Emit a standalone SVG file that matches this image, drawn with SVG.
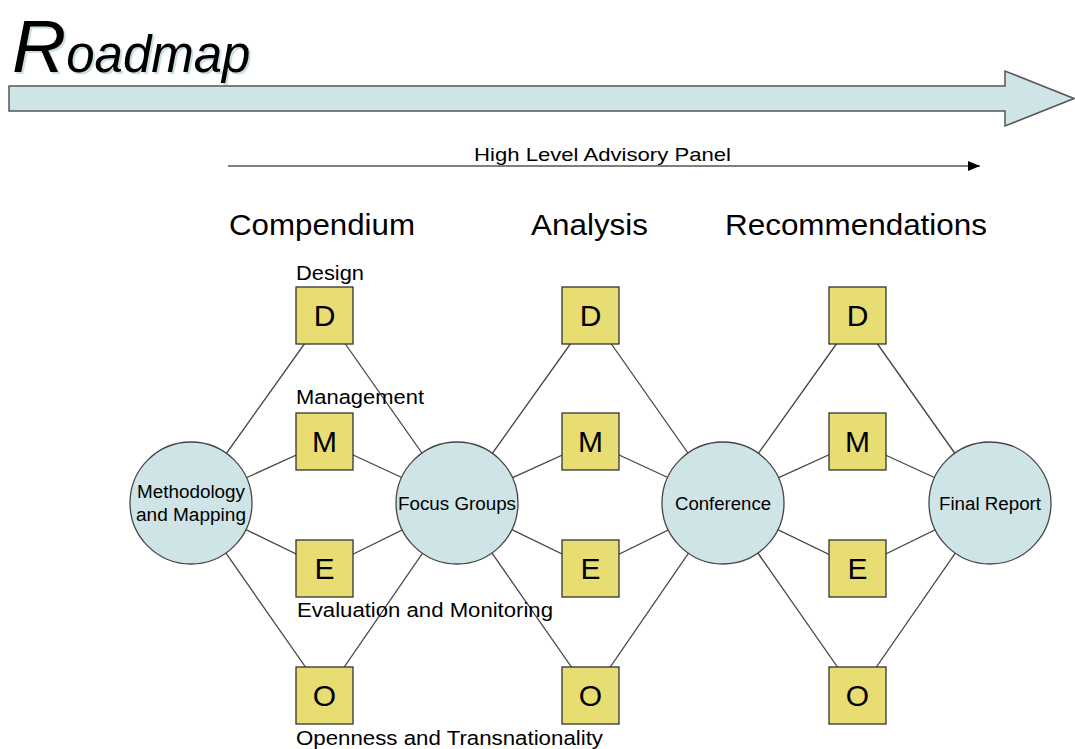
<svg xmlns="http://www.w3.org/2000/svg" width="1075" height="749" viewBox="0 0 1075 749">
<defs>
<style>
text{font-family:"Liberation Sans",Arial,Helvetica,sans-serif;fill:#000}
.circ{fill:#cfe4e6;stroke:#444;stroke-width:1.3}
.sq{fill:#e8dd72;stroke:#333;stroke-width:1.3}
.lt{font-size:30px;text-anchor:middle}
.ct{font-size:18px;text-anchor:middle}
.lbl{font-size:20.5px}
.hdr{font-size:30px}
#connectors line{stroke:#444;stroke-width:1.3}
</style>
<marker id="ah" markerWidth="12" markerHeight="10" refX="12" refY="5" orient="auto" markerUnits="userSpaceOnUse">
<path d="M0,0 L12,5 L0,10 Z" fill="#000"/>
</marker>
</defs>
<rect width="1075" height="749" fill="#fff"/>
<g id="title">
<text x="14" y="74" font-size="75" font-style="italic" style="fill:#c9dfe2">R<tspan font-size="51">oadmap</tspan></text>
<text x="12" y="72" font-size="75" font-style="italic">R<tspan font-size="51">oadmap</tspan></text>
</g>
<g id="roadmap-arrow">
<path d="M9,86 L1005,86 L1005,71 L1074,98.5 L1005,126 L1005,111 L9,111 Z" fill="#cfe4e6" stroke="#555" stroke-width="1.5"/>
</g>
<g id="panel">
<line x1="228" y1="166" x2="980" y2="166" stroke="#000" stroke-width="1.2" marker-end="url(#ah)"/>
<text x="474" y="161" font-size="19" textLength="257" lengthAdjust="spacingAndGlyphs">High Level Advisory Panel</text>
</g>
<g id="headers">
<text class="hdr" x="229" y="235" textLength="186" lengthAdjust="spacingAndGlyphs">Compendium</text>
<text class="hdr" x="531" y="235" textLength="117" lengthAdjust="spacingAndGlyphs">Analysis</text>
<text class="hdr" x="725" y="235" textLength="262" lengthAdjust="spacingAndGlyphs">Recommendations</text>
</g>
<g id="connectors">
<line x1="191" y1="503" x2="325" y2="315"/><line x1="191" y1="503" x2="325" y2="442"/>
<line x1="191" y1="503" x2="325" y2="568"/><line x1="191" y1="503" x2="325" y2="695"/>
<line x1="457" y1="503" x2="325" y2="315"/><line x1="457" y1="503" x2="325" y2="442"/>
<line x1="457" y1="503" x2="325" y2="568"/><line x1="457" y1="503" x2="325" y2="695"/>
<line x1="457" y1="503" x2="591" y2="315"/><line x1="457" y1="503" x2="591" y2="442"/>
<line x1="457" y1="503" x2="591" y2="568"/><line x1="457" y1="503" x2="591" y2="695"/>
<line x1="723" y1="503" x2="591" y2="315"/><line x1="723" y1="503" x2="591" y2="442"/>
<line x1="723" y1="503" x2="591" y2="568"/><line x1="723" y1="503" x2="591" y2="695"/>
<line x1="723" y1="503" x2="857" y2="315"/><line x1="723" y1="503" x2="857" y2="442"/>
<line x1="723" y1="503" x2="857" y2="568"/><line x1="723" y1="503" x2="857" y2="695"/>
<line x1="990" y1="503" x2="857" y2="315"/><line x1="990" y1="503" x2="857" y2="442"/>
<line x1="990" y1="503" x2="857" y2="568"/><line x1="990" y1="503" x2="857" y2="695"/>
</g>
<g id="methodology"><circle class="circ" cx="191" cy="503" r="61"/><text class="ct" x="191" y="498" textLength="108" lengthAdjust="spacingAndGlyphs">Methodology</text><text class="ct" x="191" y="521" textLength="110" lengthAdjust="spacingAndGlyphs">and Mapping</text></g>
<g id="focus-groups"><circle class="circ" cx="457" cy="503" r="61"/><text class="ct" x="457" y="510" textLength="118" lengthAdjust="spacingAndGlyphs">Focus Groups</text></g>
<g id="conference"><circle class="circ" cx="723" cy="503" r="61"/><text class="ct" x="723" y="510" textLength="96" lengthAdjust="spacingAndGlyphs">Conference</text></g>
<g id="final-report"><circle class="circ" cx="990" cy="503" r="61"/><text class="ct" x="990" y="510" textLength="102" lengthAdjust="spacingAndGlyphs">Final Report</text></g>
<g id="d1"><rect class="sq" x="296" y="287" width="57" height="57"/><text class="lt" x="324.5" y="326">D</text></g>
<g id="m1"><rect class="sq" x="296" y="413" width="57" height="57"/><text class="lt" x="324.5" y="452">M</text></g>
<g id="e1"><rect class="sq" x="296" y="540" width="57" height="57"/><text class="lt" x="324.5" y="579">E</text></g>
<g id="o1"><rect class="sq" x="296" y="667" width="57" height="57"/><text class="lt" x="324.5" y="706">O</text></g>
<g id="d2"><rect class="sq" x="562" y="287" width="57" height="57"/><text class="lt" x="590.5" y="326">D</text></g>
<g id="m2"><rect class="sq" x="562" y="413" width="57" height="57"/><text class="lt" x="590.5" y="452">M</text></g>
<g id="e2"><rect class="sq" x="562" y="540" width="57" height="57"/><text class="lt" x="590.5" y="579">E</text></g>
<g id="o2"><rect class="sq" x="562" y="667" width="57" height="57"/><text class="lt" x="590.5" y="706">O</text></g>
<g id="d3"><rect class="sq" x="829" y="287" width="57" height="57"/><text class="lt" x="857.5" y="326">D</text></g>
<g id="m3"><rect class="sq" x="829" y="413" width="57" height="57"/><text class="lt" x="857.5" y="452">M</text></g>
<g id="e3"><rect class="sq" x="829" y="540" width="57" height="57"/><text class="lt" x="857.5" y="579">E</text></g>
<g id="o3"><rect class="sq" x="829" y="667" width="57" height="57"/><text class="lt" x="857.5" y="706">O</text></g>
<g id="labels">
<text class="lbl" x="296" y="280" textLength="68" lengthAdjust="spacingAndGlyphs">Design</text>
<text class="lbl" x="296" y="404" textLength="128" lengthAdjust="spacingAndGlyphs">Management</text>
<text class="lbl" x="297" y="617" textLength="256" lengthAdjust="spacingAndGlyphs">Evaluation and Monitoring</text>
<text class="lbl" x="296" y="745" textLength="307" lengthAdjust="spacingAndGlyphs">Openness and Transnationality</text>
</g>
</svg>
